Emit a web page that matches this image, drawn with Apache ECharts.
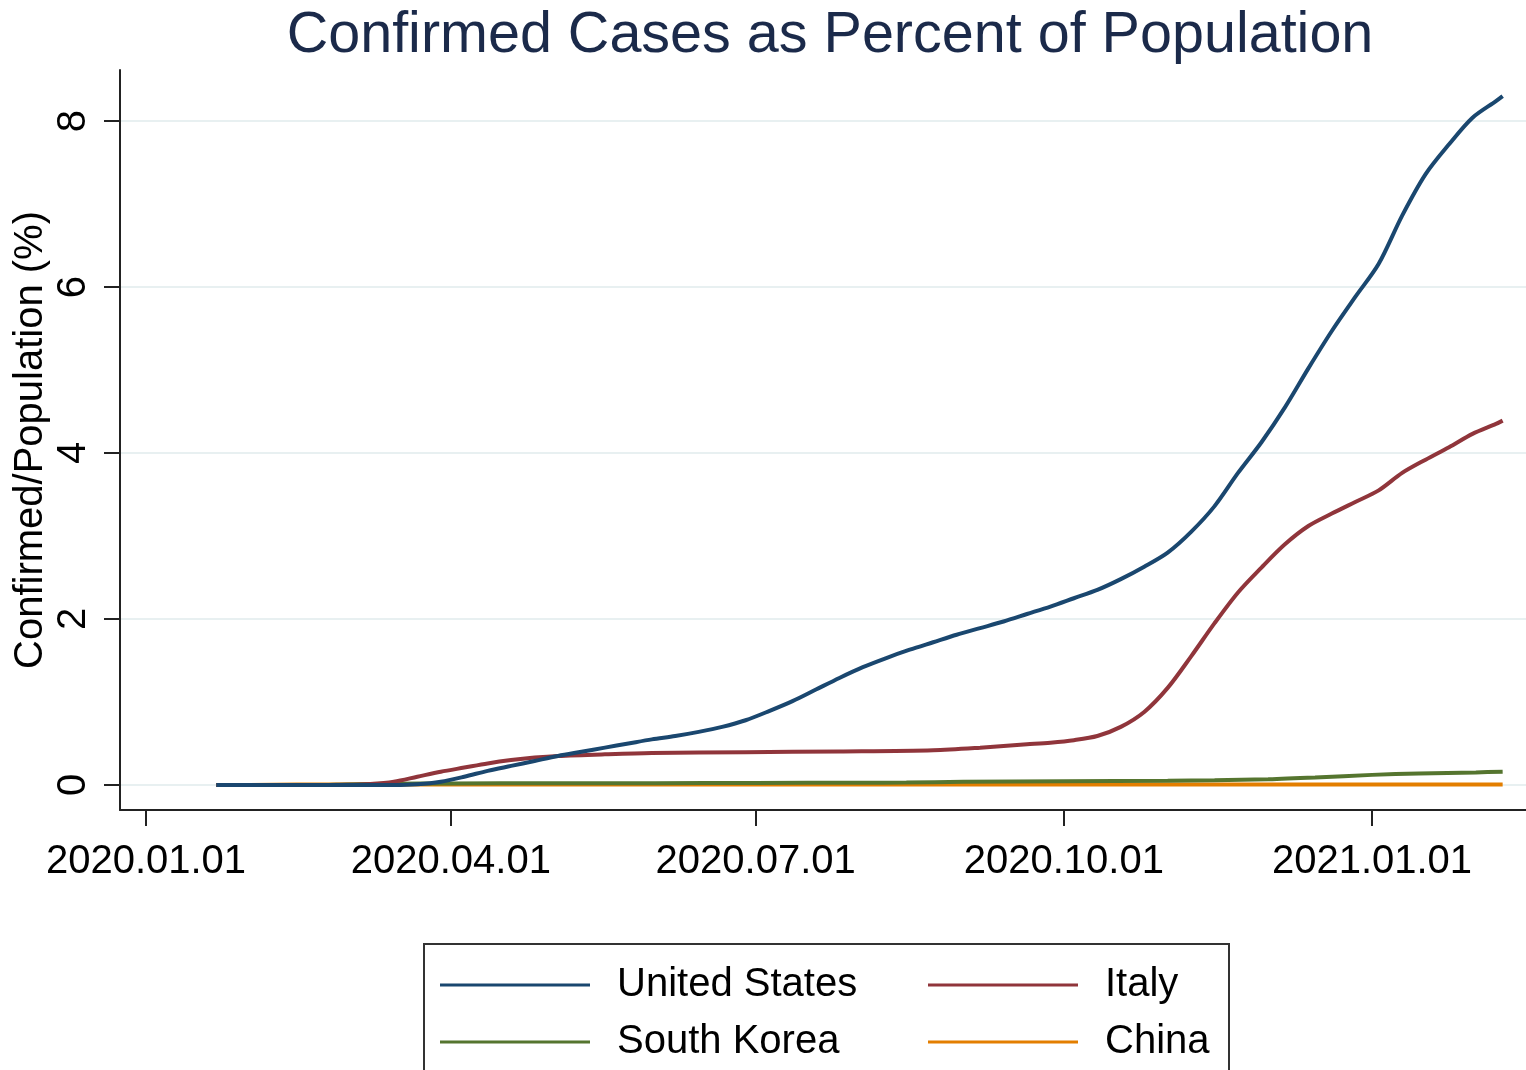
<!DOCTYPE html>
<html>
<head>
<meta charset="utf-8">
<script src="https://cdn.jsdelivr.net/npm/echarts@6/dist/echarts.min.js"></script>
<style>html,body{margin:0;padding:0;background:#fff}#c{width:1526px;height:1070px}</style>
</head>
<body>
<div id="c"></div>
<script>
const titleText = 'Confirmed Cases as Percent of Population';
const yAxisName = 'Confirmed/Population (%)';
const yTicks = [0, 2, 4, 6, 8];
const xTickDates = ['2020-01-01', '2020-04-01', '2020-07-01', '2020-10-01', '2021-01-01'];
const seriesNames = ['United States', 'Italy', 'South Korea', 'China'];

const usDates = ['2020-01-22','2020-03-01','2020-03-15','2020-03-22','2020-03-29','2020-04-05','2020-04-12','2020-04-19','2020-04-26','2020-05-03','2020-05-10','2020-05-17','2020-05-24','2020-05-31','2020-06-07','2020-06-14','2020-06-21','2020-06-28','2020-07-05','2020-07-12','2020-07-19','2020-07-26','2020-08-02','2020-08-09','2020-08-16','2020-08-23','2020-08-30','2020-09-06','2020-09-13','2020-09-20','2020-09-27','2020-10-04','2020-10-11','2020-10-18','2020-10-25','2020-11-01','2020-11-08','2020-11-15','2020-11-22','2020-11-29','2020-12-06','2020-12-13','2020-12-20','2020-12-27','2021-01-03','2021-01-10','2021-01-17','2021-01-24','2021-01-31','2021-02-07','2021-02-09'];
const usValues = [0,0,0.001,0.01,0.04,0.10,0.17,0.23,0.29,0.35,0.40,0.45,0.50,0.55,0.59,0.64,0.70,0.78,0.89,1.01,1.15,1.29,1.42,1.53,1.63,1.72,1.81,1.89,1.97,2.06,2.15,2.25,2.35,2.48,2.63,2.80,3.05,3.36,3.76,4.13,4.55,5.02,5.47,5.88,6.28,6.86,7.36,7.72,8.04,8.24,8.30];

const itDates = ['2020-01-22','2020-02-22','2020-03-01','2020-03-08','2020-03-15','2020-03-22','2020-03-29','2020-04-05','2020-04-12','2020-04-19','2020-04-26','2020-05-03','2020-05-17','2020-05-31','2020-06-28','2020-07-26','2020-08-23','2020-09-06','2020-09-20','2020-09-27','2020-10-04','2020-10-11','2020-10-18','2020-10-25','2020-11-01','2020-11-08','2020-11-15','2020-11-22','2020-11-29','2020-12-06','2020-12-13','2020-12-20','2020-12-27','2021-01-03','2021-01-10','2021-01-17','2021-01-24','2021-01-31','2021-02-07','2021-02-09'];
const itValues = [0,0.0001,0.002,0.012,0.04,0.10,0.16,0.21,0.26,0.30,0.33,0.35,0.37,0.385,0.395,0.405,0.42,0.45,0.49,0.51,0.54,0.59,0.70,0.88,1.17,1.55,1.95,2.32,2.62,2.90,3.12,3.27,3.41,3.55,3.76,3.92,4.07,4.23,4.35,4.39];

const krDates = ['2020-01-22','2020-02-20','2020-03-01','2020-03-15','2020-04-01','2020-05-01','2020-06-01','2020-07-01','2020-08-01','2020-08-15','2020-09-01','2020-10-01','2020-11-01','2020-11-15','2020-12-01','2020-12-15','2021-01-01','2021-01-15','2021-02-01','2021-02-09'];
const krValues = [0,0.0002,0.007,0.016,0.019,0.021,0.022,0.025,0.028,0.030,0.039,0.046,0.052,0.058,0.069,0.090,0.122,0.139,0.152,0.160];

const cnDates = ['2020-01-22','2020-02-01','2020-02-15','2020-03-01','2020-06-01','2020-10-01','2021-01-01','2021-02-09'];
const cnValues = [0.00004,0.0009,0.0048,0.0057,0.0060,0.0061,0.0062,0.0064];

const colors = ['#1a476f', '#90353b', '#55752f', '#e37e00'];

// day number since 2020-01-01
function dayNum(s) {
  const p = s.split('-').map(Number);
  return Math.round((Date.UTC(p[0], p[1] - 1, p[2]) - Date.UTC(2020, 0, 1)) / 86400000);
}
function pairs(d, v) { return d.map((x, i) => [dayNum(x), v[i]]); }

const xTickVals = xTickDates.map(dayNum);
const xLabelMap = {};
xTickDates.forEach(d => { xLabelMap[dayNum(d)] = d.replace(/-/g, '.'); });

const FONT = 'Liberation Sans, Arial, sans-serif';
const chart = echarts.init(document.getElementById('c'));

const allData = [pairs(usDates, usValues), pairs(itDates, itValues), pairs(krDates, krValues), pairs(cnDates, cnValues)];

chart.setOption({
  animation: false,
  backgroundColor: '#fff',
  title: {
    text: titleText, left: 825, textAlign: 'center', top: 2,
    textStyle: { fontFamily: FONT, fontSize: 57.5, fontWeight: 'normal', color: '#1b2a4a' }
  },
  grid: { left: 120, right: 0, top: 70, bottom: 260, containLabel: false, outerBoundsMode: 'none' },
  xAxis: {
    type: 'value', min: -7.76, max: 411.97,
    axisLine: { show: true, onZero: false, lineStyle: { color: '#222', width: 2 } },
    axisTick: { show: true, length: 16, lineStyle: { color: '#222', width: 2 }, customValues: xTickVals },
    axisLabel: {
      customValues: xTickVals, margin: 32,
      fontFamily: FONT, fontSize: 40, color: '#000',
      formatter: v => xLabelMap[Math.round(v)] || ''
    },
    splitLine: { show: false }
  },
  yAxis: {
    type: 'value', min: -0.3012, max: 8.6145,
    axisLine: { show: true, onZero: false, lineStyle: { color: '#222', width: 2 } },
    axisTick: { show: true, length: 16, lineStyle: { color: '#222', width: 2 }, customValues: yTicks },
    axisLabel: { customValues: yTicks, rotate: 90, margin: 26, fontFamily: FONT, fontSize: 40, color: '#000' },
    splitLine: { show: true, lineStyle: { color: '#e8f0f1', width: 2 } }
  },
  legend: [
    {
      data: [seriesNames[0], seriesNames[2]], orient: 'vertical', left: 435, top: 960,
      icon: 'rect', itemWidth: 150, itemHeight: 3, itemGap: 17,
      textStyle: { fontFamily: FONT, fontSize: 40, color: '#000', lineHeight: 40, padding: [0, 0, 0, 22] }
    },
    {
      data: [seriesNames[1], seriesNames[3]], orient: 'vertical', left: 923, top: 960,
      icon: 'rect', itemWidth: 150, itemHeight: 3, itemGap: 17,
      textStyle: { fontFamily: FONT, fontSize: 40, color: '#000', lineHeight: 40, padding: [0, 0, 0, 22] }
    }
  ],
  graphic: [
    {
      type: 'rect', left: 423, top: 943, silent: true, z: -1,
      shape: { width: 805, height: 160 },
      style: { fill: '#fff', stroke: '#333', lineWidth: 2 }
    },
    {
      type: 'text', x: 31, y: 440, rotation: Math.PI / 2, silent: true,
      style: {
        text: yAxisName, font: '40px ' + FONT, fill: '#000',
        textAlign: 'center', textVerticalAlign: 'middle', verticalAlign: 'middle', align: 'center'
      }
    }
  ],
  series: seriesNames.map((n, i) => ({
    name: n, type: 'line', data: allData[i], showSymbol: false, smooth: 0.3,
    color: colors[i], lineStyle: { width: 4, color: colors[i] }, z: 10 - i
  }))
});
</script>
</body>
</html>
